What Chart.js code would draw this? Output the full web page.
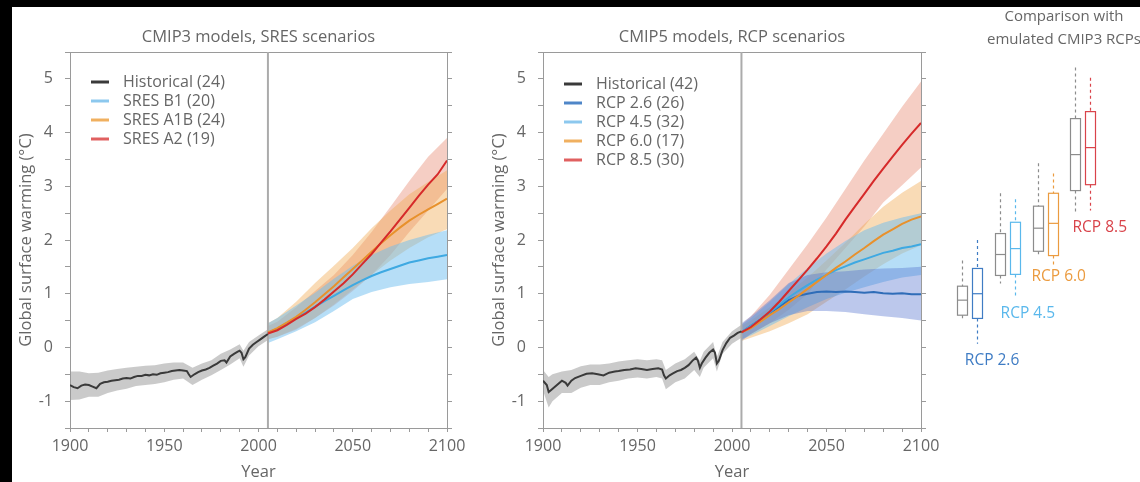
<!DOCTYPE html>
<html lang="en">
<head>
<meta charset="UTF-8" />
<title>Global surface warming: CMIP3 vs CMIP5</title>
<script src="https://cdn.jsdelivr.net/npm/chart.js"></script>
<style>
  html, body { margin: 0; padding: 0; background: #000; width: 1140px; height: 482px; overflow: hidden; }
  #paper { position: absolute; left: 12px; top: 7px; width: 1128px; height: 475px; background: #fff; }
  canvas { position: absolute; }
  #cmip3 { left: 12px; top: 7px; width: 465px; height: 475px; }
  #cmip5 { left: 485px; top: 7px; width: 466px; height: 475px; }
  #boxes { left: 951px; top: 0; width: 226px; height: 482px; }
</style>
</head>
<body>
<div id="paper"></div>
<canvas id="cmip3" width="465" height="475"></canvas>
<canvas id="cmip5" width="466" height="475"></canvas>
<canvas id="boxes" width="226" height="482"></canvas>

<script>
const FONT = "'Open Sans', 'Noto Sans', sans-serif";
const TEXT = "#666";
const AXIS = "#9a9a9a";
Chart.defaults.font.family = FONT;

// ---------- left panel: CMIP3 models, SRES scenarios ----------
const histYears3 = [1900, 1902, 1904, 1906, 1908, 1910, 1912, 1914, 1916, 1918,
  1920, 1922, 1924, 1926, 1928, 1930, 1932, 1934, 1936, 1938,
  1940, 1942, 1944, 1946, 1948, 1950, 1952, 1954, 1956, 1958,
  1960, 1962, 1963, 1964, 1966, 1968, 1970, 1972, 1974, 1976,
  1978, 1980, 1982, 1983, 1985, 1987, 1989, 1990, 1991, 1992,
  1993, 1995, 1997, 1999, 2001, 2003, 2005];
const hist3 = [-0.70, -0.74, -0.76, -0.71, -0.69, -0.70, -0.73, -0.76, -0.68, -0.65,
  -0.64, -0.62, -0.61, -0.60, -0.58, -0.57, -0.58, -0.55, -0.53, -0.53,
  -0.51, -0.52, -0.50, -0.51, -0.48, -0.47, -0.46, -0.44, -0.43, -0.42,
  -0.43, -0.44, -0.50, -0.55, -0.50, -0.46, -0.43, -0.41, -0.38, -0.34,
  -0.30, -0.25, -0.24, -0.28, -0.17, -0.12, -0.08, -0.06, -0.10, -0.22,
  -0.18, -0.02, 0.05, 0.10, 0.15, 0.20, 0.25];

const histBandYears3 = [1900, 1905, 1910, 1915, 1920, 1925, 1930, 1935, 1940, 1945,
  1950, 1955, 1960, 1965, 1970, 1975, 1980, 1985, 1990, 1992, 1995, 2000, 2005];
const hist3Low = [-0.98, -0.97, -0.92, -0.92, -0.85, -0.80, -0.77, -0.72, -0.70, -0.68,
  -0.65, -0.60, -0.58, -0.70, -0.60, -0.52, -0.42, -0.32, -0.20, -0.36, -0.15, 0.02, 0.14];
const hist3High = [-0.45, -0.45, -0.48, -0.47, -0.43, -0.40, -0.38, -0.36, -0.34, -0.33,
  -0.30, -0.28, -0.28, -0.38, -0.30, -0.24, -0.12, -0.04, 0.06, -0.06, 0.10, 0.22, 0.34];

const projYears = [2005, 2010, 2015, 2020, 2025, 2030, 2035, 2040, 2045, 2050,
  2055, 2060, 2065, 2070, 2075, 2080, 2085, 2090, 2095, 2100];
const sresB1 = [0.27, 0.35, 0.45, 0.55, 0.65, 0.76, 0.86, 0.96, 1.06, 1.16,
  1.25, 1.33, 1.40, 1.46, 1.52, 1.58, 1.62, 1.66, 1.69, 1.72];
const sresA1B = [0.28, 0.36, 0.46, 0.57, 0.70, 0.84, 0.99, 1.14, 1.30, 1.46,
  1.62, 1.78, 1.94, 2.09, 2.23, 2.36, 2.47, 2.57, 2.67, 2.77];
const sresA2 = [0.26, 0.32, 0.42, 0.53, 0.63, 0.75, 0.89, 1.04, 1.19, 1.36,
  1.55, 1.74, 1.95, 2.16, 2.38, 2.60, 2.82, 3.03, 3.22, 3.48];

const bandYears = [2005, 2010, 2020, 2030, 2040, 2050, 2060, 2070, 2080, 2090, 2100];
const sresB1Low = [0.08, 0.15, 0.30, 0.47, 0.68, 0.90, 1.03, 1.12, 1.18, 1.22, 1.27];
const sresB1High = [0.45, 0.55, 0.78, 1.02, 1.28, 1.52, 1.72, 1.88, 2.00, 2.10, 2.18];
const sresA1BLow = [0.15, 0.20, 0.35, 0.55, 0.80, 1.08, 1.35, 1.62, 1.85, 2.05, 2.20];
const sresA1BHigh = [0.45, 0.55, 0.85, 1.20, 1.52, 1.85, 2.22, 2.55, 2.85, 3.08, 3.30];
const sresA2Low = [0.15, 0.20, 0.33, 0.55, 0.78, 1.05, 1.35, 1.72, 2.15, 2.55, 2.95];
const sresA2High = [0.40, 0.48, 0.75, 1.05, 1.35, 1.72, 2.15, 2.62, 3.10, 3.55, 3.90];

const sresLabels = ["Historical (24)", "SRES B1 (20)", "SRES A1B (24)", "SRES A2 (19)"];

// ---------- middle panel: CMIP5 models, RCP scenarios ----------
const histYears5 = [1900, 1902, 1903, 1904, 1906, 1908, 1910, 1912, 1913, 1915,
  1917, 1920, 1923, 1926, 1929, 1932, 1935, 1938, 1940, 1943,
  1946, 1949, 1952, 1955, 1958, 1961, 1963, 1964, 1965, 1967,
  1969, 1971, 1973, 1975, 1977, 1979, 1981, 1982, 1983, 1984,
  1986, 1988, 1990, 1991, 1992, 1993, 1995, 1997, 1999, 2001,
  2003, 2005];
const hist5 = [-0.62, -0.70, -0.83, -0.80, -0.74, -0.68, -0.62, -0.66, -0.71, -0.62,
  -0.57, -0.53, -0.49, -0.48, -0.50, -0.52, -0.47, -0.45, -0.44, -0.42,
  -0.41, -0.39, -0.40, -0.42, -0.40, -0.39, -0.41, -0.52, -0.58, -0.52,
  -0.48, -0.44, -0.42, -0.38, -0.33, -0.25, -0.19, -0.25, -0.38, -0.30,
  -0.19, -0.10, -0.04, -0.10, -0.30, -0.25, -0.05, 0.08, 0.18, 0.22,
  0.27, 0.30];

const histBandYears5 = [1900, 1903, 1905, 1910, 1915, 1920, 1925, 1930, 1935, 1940,
  1945, 1950, 1955, 1960, 1963, 1965, 1970, 1975, 1980, 1983,
  1985, 1990, 1992, 1995, 2000, 2005];
const hist5Low = [-0.80, -1.12, -1.00, -0.85, -0.85, -0.75, -0.70, -0.70, -0.65, -0.62,
  -0.58, -0.56, -0.58, -0.55, -0.58, -0.78, -0.65, -0.58, -0.42, -0.55,
  -0.38, -0.20, -0.45, -0.12, 0.07, 0.18];
const hist5High = [-0.42, -0.55, -0.50, -0.45, -0.42, -0.35, -0.32, -0.32, -0.30, -0.26,
  -0.24, -0.22, -0.24, -0.22, -0.24, -0.42, -0.30, -0.22, -0.08, -0.25,
  -0.08, 0.10, -0.18, 0.10, 0.30, 0.42];

const rcp26 = [0.28, 0.40, 0.52, 0.64, 0.76, 0.88, 0.96, 1.00, 1.03, 1.04,
  1.03, 1.04, 1.03, 1.02, 1.03, 1.01, 1.00, 1.01, 0.99, 0.99];
const rcp45 = [0.28, 0.40, 0.52, 0.65, 0.79, 0.93, 1.05, 1.16, 1.26, 1.35,
  1.44, 1.51, 1.58, 1.64, 1.70, 1.76, 1.80, 1.85, 1.88, 1.92];
const rcp60 = [0.28, 0.36, 0.48, 0.60, 0.71, 0.84, 0.96, 1.09, 1.22, 1.35,
  1.48, 1.60, 1.73, 1.85, 1.98, 2.10, 2.20, 2.30, 2.38, 2.44];
const rcp85 = [0.28, 0.38, 0.52, 0.67, 0.85, 1.05, 1.25, 1.45, 1.66, 1.88,
  2.12, 2.38, 2.62, 2.86, 3.10, 3.33, 3.55, 3.77, 3.98, 4.18];

const rcp26Low = [0.12, 0.25, 0.45, 0.60, 0.68, 0.68, 0.66, 0.62, 0.58, 0.55, 0.50];
const rcp26High = [0.45, 0.58, 0.88, 1.20, 1.35, 1.40, 1.42, 1.45, 1.47, 1.48, 1.50];
const rcp45Low = [0.15, 0.22, 0.40, 0.58, 0.75, 0.90, 1.02, 1.12, 1.22, 1.30, 1.35];
const rcp45High = [0.42, 0.55, 0.85, 1.18, 1.48, 1.75, 1.98, 2.18, 2.32, 2.42, 2.50];
const rcp60Low = [0.12, 0.18, 0.30, 0.45, 0.62, 0.85, 1.08, 1.32, 1.55, 1.75, 1.90];
const rcp60High = [0.40, 0.50, 0.75, 1.02, 1.30, 1.62, 1.95, 2.30, 2.62, 2.88, 3.10];
const rcp85Low = [0.15, 0.25, 0.45, 0.70, 1.00, 1.45, 1.85, 2.25, 2.70, 3.02, 3.35];
const rcp85High = [0.42, 0.58, 0.98, 1.45, 1.92, 2.42, 2.95, 3.48, 3.98, 4.48, 4.95];

const rcpLabels = ["Historical (42)", "RCP 2.6 (26)", "RCP 4.5 (32)", "RCP 6.0 (17)", "RCP 8.5 (30)"];

// ---------- right panel: warming at 2100, emulated CMIP3 (grey) vs CMIP5 ----------
const boxGroups = ["RCP 2.6", "RCP 4.5", "RCP 6.0", "RCP 8.5"];
const emuMin = [0.53, 1.19, 1.69, 2.49];
const emuQ1 = [0.60, 1.34, 1.79, 2.92];
const emuMed = [0.88, 1.73, 2.22, 3.59];
const emuQ3 = [1.14, 2.12, 2.63, 4.26];
const emuMax = [1.62, 2.87, 3.43, 5.21];
const cmipMin = [0.07, 0.93, 1.49, 2.55];
const cmipQ1 = [0.54, 1.36, 1.71, 3.03];
const cmipMed = [1.00, 1.84, 2.31, 3.72];
const cmipQ3 = [1.47, 2.33, 2.87, 4.39];
const cmipMax = [2.00, 2.76, 3.24, 5.02];

const C = {
  hist: "#3a3a3a", histBand: "rgba(150,150,150,0.5)",
  light: "#3ea9e2", lightBand: "rgba(110,190,240,0.5)",
  orange: "#e8912c", orangeBand: "rgba(240,170,80,0.42)",
  red: "#d62a2a", redBand: "rgba(228,125,100,0.38)",
  blue: "#2f6db8", blueBand: "rgba(80,110,205,0.38)",
  grey: "#8c8c8c",
};

const zip = (xs, ys) => xs.map((x, i) => ({ x, y: ys[i] }));

function lineSet(xs, ys, color) {
  return { data: zip(xs, ys), borderColor: color, borderWidth: 2, pointRadius: 0, fill: false, order: 0 };
}
function bandSets(xs, lo, hi, color) {
  return [
    { data: zip(xs, lo), borderColor: "rgba(0,0,0,0)", borderWidth: 0, pointRadius: 0, fill: false, order: 1 },
    { data: zip(xs, hi), borderColor: "rgba(0,0,0,0)", borderWidth: 0, pointRadius: 0, fill: "-1", backgroundColor: color, order: 1 },
  ];
}

function panelScales(title) {
  const tickFont = { family: FONT, size: 16 };
  const titleFont = { family: FONT, size: 16.5 };
  return {
    x: {
      type: "linear", position: "bottom", min: 1900, max: 2100,
      afterFit: (s) => { s.height = 54; },
      grid: { drawOnChartArea: false, tickLength: 4, color: AXIS },
      border: { color: AXIS },
      ticks: { stepSize: 10, autoSkip: false, maxRotation: 0, padding: 5, color: TEXT, font: tickFont,
        callback: (v) => (v % 50 === 0 ? String(v) : "") },
      title: { display: true, text: "Year", color: TEXT, font: titleFont, padding: { top: 0, bottom: 0 } },
    },
    xTop: {
      type: "linear", position: "top", min: 1900, max: 2100,
      afterFit: (s) => { s.height = 45; },
      grid: { drawOnChartArea: false, drawTicks: false },
      border: { color: AXIS },
      ticks: { display: false },
      title: { display: true, text: title, color: TEXT, font: titleFont, padding: { top: 20, bottom: 0 } },
    },
    y: {
      type: "linear", position: "left", min: -1.5, max: 5.5,
      afterFit: (s) => { s.width = 58; },
      grid: { drawOnChartArea: false, tickLength: 5, color: AXIS },
      border: { color: AXIS },
      ticks: { stepSize: 0.5, padding: 12, color: TEXT, font: tickFont,
        callback: (v) => (Number.isInteger(v) ? String(v) : "") },
      title: { display: true, text: "Global surface warming (°C)", color: TEXT, font: titleFont, padding: { top: 4, bottom: 0 } },
    },
    yRight: {
      type: "linear", position: "right", min: -1.5, max: 5.5,
      afterFit: (s) => { s.width = 30; },
      grid: { drawOnChartArea: false, tickLength: 5, color: AXIS },
      border: { color: AXIS },
      ticks: { stepSize: 0.5, padding: 0, callback: () => "" },
    },
  };
}

// grey line marking the end of the historical runs
const splitLine = {
  id: "splitLine",
  beforeDatasetsDraw(chart, args, opts) {
    const { ctx, chartArea, scales } = chart;
    const x = scales.x.getPixelForValue(opts.year);
    ctx.save();
    ctx.strokeStyle = "#ababab";
    ctx.lineWidth = 2;
    ctx.beginPath();
    ctx.moveTo(x, chartArea.top);
    ctx.lineTo(x, chartArea.bottom);
    ctx.stroke();
    ctx.restore();
  },
};

// legend drawn inside the plot area, top-left
const insetLegend = {
  id: "insetLegend",
  afterDatasetsDraw(chart, args, opts) {
    const { ctx, chartArea } = chart;
    ctx.save();
    ctx.font = "16px " + FONT;
    ctx.textBaseline = "middle";
    opts.labels.forEach((label, i) => {
      const y = chartArea.top + opts.top + i * 19;
      ctx.strokeStyle = opts.colors[i];
      ctx.lineWidth = 3;
      ctx.beginPath();
      ctx.moveTo(chartArea.left + 21, y);
      ctx.lineTo(chartArea.left + 39, y);
      ctx.stroke();
      ctx.fillStyle = TEXT;
      ctx.fillText(label, chartArea.left + 53, y);
    });
    ctx.restore();
  },
};

function panelOptions(title, labels, colors, top) {
  return {
    responsive: false,
    animation: false,
    events: [],
    layout: { padding: 0 },
    scales: panelScales(title),
    plugins: {
      legend: { display: false },
      title: { display: false },
      tooltip: { enabled: false },
      filler: { drawTime: "beforeDatasetsDraw" },
      splitLine: { year: 2005 },
      insetLegend: { labels, colors, top },
    },
  };
}

new Chart(document.getElementById("cmip3"), {
  type: "line",
  data: {
    datasets: [
      ...bandSets(histBandYears3, hist3Low, hist3High, C.histBand),
      ...bandSets(bandYears, sresB1Low, sresB1High, C.lightBand),
      ...bandSets(bandYears, sresA1BLow, sresA1BHigh, C.orangeBand),
      ...bandSets(bandYears, sresA2Low, sresA2High, C.redBand),
      lineSet(histYears3, hist3, C.hist),
      lineSet(projYears, sresA2, C.red),
      lineSet(projYears, sresA1B, C.orange),
      lineSet(projYears, sresB1, C.light),
    ],
  },
  options: panelOptions("CMIP3 models, SRES scenarios", sresLabels, [C.hist, "#8cc8ee", "#f0b060", "#e06060"], 30),
  plugins: [splitLine, insetLegend],
});

new Chart(document.getElementById("cmip5"), {
  type: "line",
  data: {
    datasets: [
      ...bandSets(histBandYears5, hist5Low, hist5High, C.histBand),
      ...bandSets(bandYears, rcp26Low, rcp26High, C.blueBand),
      ...bandSets(bandYears, rcp45Low, rcp45High, C.lightBand),
      ...bandSets(bandYears, rcp60Low, rcp60High, C.orangeBand),
      ...bandSets(bandYears, rcp85Low, rcp85High, C.redBand),
      lineSet(histYears5, hist5, C.hist),
      lineSet(projYears, rcp85, C.red),
      lineSet(projYears, rcp60, C.orange),
      lineSet(projYears, rcp45, C.light),
      lineSet(projYears, rcp26, C.blue),
    ],
  },
  options: panelOptions("CMIP5 models, RCP scenarios", rcpLabels, [C.hist, "#4f86c8", "#8cc8ee", "#f0b060", "#e06060"], 32),
  plugins: [splitLine, insetLegend],
});

// box and whisker pairs drawn on the chart's own scales
const boxPlot = {
  id: "boxPlot",
  afterDatasetsDraw(chart, args, opts) {
    const { ctx, scales: { x, y } } = chart;
    const half = 5;
    ctx.save();
    ctx.lineWidth = 1.2;
    opts.series.forEach((s) => {
      s.med.forEach((m, i) => {
        const cx = Math.round(x.getPixelForValue(i + 1 + s.offset)) + 0.5;
        const yMin = y.getPixelForValue(s.min[i]);
        const yQ1 = y.getPixelForValue(s.q1[i]);
        const yMed = y.getPixelForValue(m);
        const yQ3 = y.getPixelForValue(s.q3[i]);
        const yMax = y.getPixelForValue(s.max[i]);
        ctx.strokeStyle = s.colors[i];
        ctx.setLineDash([3, 3]);
        ctx.beginPath();
        ctx.moveTo(cx, yMax); ctx.lineTo(cx, yQ3);
        ctx.moveTo(cx, yQ1); ctx.lineTo(cx, yMin);
        ctx.stroke();
        ctx.setLineDash([]);
        ctx.strokeRect(cx - half, yQ3, half * 2, yQ1 - yQ3);
        ctx.beginPath();
        ctx.moveTo(cx - half, yMed); ctx.lineTo(cx + half, yMed);
        ctx.stroke();
      });
    });
    ctx.font = "15.5px " + FONT;
    ctx.textAlign = "center";
    ctx.textBaseline = "middle";
    opts.labels.forEach((lab, i) => {
      ctx.fillStyle = opts.labelColors[i];
      ctx.fillText(lab, x.getPixelForValue(opts.labelAt[i].x), y.getPixelForValue(opts.labelAt[i].y));
    });
    ctx.restore();
  },
};

const boxColors = ["#3f7cc4", "#5ab8ec", "#eb9b3f", "#d9434a"];

new Chart(document.getElementById("boxes"), {
  type: "scatter",
  data: { datasets: [] },
  options: {
    responsive: false,
    animation: false,
    events: [],
    layout: { padding: { top: 0, bottom: 54, left: 0, right: 0 } },
    scales: {
      x: { type: "linear", min: 0.5, max: 6.5, display: false },
      y: { type: "linear", min: -1.5, max: 5.5, display: false },
    },
    plugins: {
      legend: { display: false },
      tooltip: { enabled: false },
      title: {
        display: true,
        text: ["Comparison with", "emulated CMIP3 RCPs"],
        color: TEXT,
        font: { family: FONT, size: 15, weight: "normal", lineHeight: 23 / 15 },
        padding: { top: 5.5, bottom: 0.5 },
      },
      boxPlot: {
        series: [
          { offset: -0.2, min: emuMin, q1: emuQ1, med: emuMed, q3: emuQ3, max: emuMax, colors: boxGroups.map(() => C.grey) },
          { offset: 0.2, min: cmipMin, q1: cmipQ1, med: cmipMed, q3: cmipQ3, max: cmipMax, colors: boxColors },
        ],
        labels: boxGroups,
        labelColors: boxColors,
        labelAt: [{ x: 1.59, y: -0.24 }, { x: 2.54, y: 0.63 }, { x: 3.36, y: 1.32 }, { x: 4.45, y: 2.23 }],
      },
    },
  },
  plugins: [boxPlot],
});
</script>
</body>
</html>
